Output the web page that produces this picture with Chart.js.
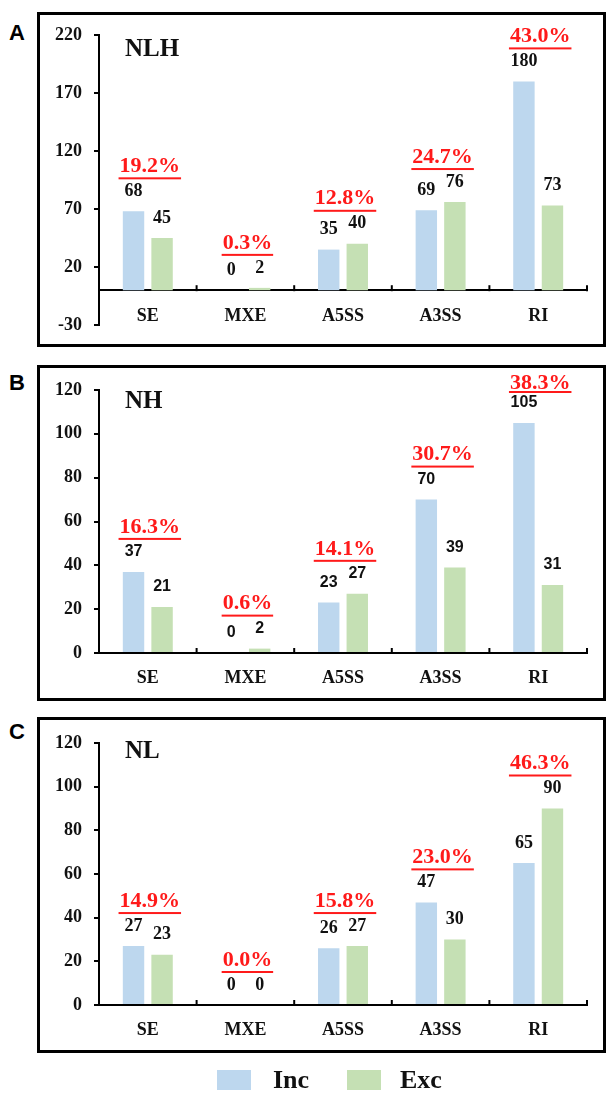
<!DOCTYPE html>
<html><head><meta charset="utf-8">
<script src="https://cdn.jsdelivr.net/npm/chart.js@4.4.0/dist/chart.umd.min.js"></script>
<style>
html,body{margin:0;padding:0;background:#fff;}
body{width:606px;height:1093px;position:relative;overflow:hidden;}
.frame{position:absolute;border:3px solid #000;box-sizing:border-box;}
canvas{position:absolute;left:0;}
.letter{position:absolute;left:9px;font:bold 22px "Liberation Sans",Arial,sans-serif;color:#000;line-height:1;}
.title{position:absolute;left:125px;font:bold 25px "Liberation Serif","Times New Roman",serif;color:#111;line-height:1;}
.sw{position:absolute;width:34px;height:20px;}
.lt{position:absolute;font:bold 26px "Liberation Serif","Times New Roman",serif;color:#111;line-height:1;}
</style></head>
<body>
<div class="frame" style="left:37px;top:12px;width:569px;height:335px;"></div>
<div class="frame" style="left:37px;top:365px;width:569px;height:336px;"></div>
<div class="frame" style="left:37px;top:717px;width:569px;height:336px;"></div>
<div class="letter" style="top:22px;">A</div>
<div class="letter" style="top:372px;">B</div>
<div class="letter" style="top:721px;">C</div>
<canvas id="cA" width="606" height="350" style="top:0px;"></canvas>
<canvas id="cB" width="606" height="350" style="top:350px;"></canvas>
<canvas id="cC" width="606" height="393" style="top:700px;"></canvas>
<div class="title" style="top:35px;">NLH</div>
<div class="title" style="top:387px;">NH</div>
<div class="title" style="top:737px;">NL</div>
<div class="sw" style="left:217px;top:1070px;background:#bdd7ee;"></div>
<div class="lt" style="left:273px;top:1067px;" id="lg0"></div>
<div class="sw" style="left:347px;top:1070px;background:#c5e0b4;"></div>
<div class="lt" style="left:400px;top:1067px;" id="lg1"></div>
<script>
const categories = ['SE','MXE','A5SS','A3SS','RI'];
const seriesNames = ['Inc','Exc'];
const incNLH = [68,0,35,69,180];
const excNLH = [45,2,40,76,73];
const pctNLH = ['19.2%','0.3%','12.8%','24.7%','43.0%'];
const incNH = [37,0,23,70,105];
const excNH = [21,2,27,39,31];
const pctNH = ['16.3%','0.6%','14.1%','30.7%','38.3%'];
const incNL = [27,0,26,47,65];
const excNL = [23,0,27,30,90];
const pctNL = ['14.9%','0.0%','15.8%','23.0%','46.3%'];
const ticksNLH = [-30,20,70,120,170,220];
const ticksNH = [0,20,40,60,80,100,120];
const ticksNL = [0,20,40,60,80,100,120];

const colInc = '#bdd7ee';
const colExc = '#c5e0b4';
document.getElementById('lg0').textContent = seriesNames[0];
document.getElementById('lg1').textContent = seriesNames[1];

const labelPlugin = {
  id: 'barLabels',
  afterDatasetsDraw(chart) {
    const o = chart.options.plugins.barLabels;
    const ctx = chart.ctx;
    const xs = chart.scales.x;
    const y0 = chart.scales.y.getPixelForValue(0);
    ctx.save();
    ctx.strokeStyle = '#000';
    ctx.lineWidth = 2;
    for (let i = 1; i <= categories.length; i++) {
      const bx = xs.getPixelForValue(i - 0.5);
      ctx.beginPath();
      ctx.moveTo(bx, y0 + 1);
      ctx.lineTo(bx, y0 - 5);
      ctx.stroke();
    }
    ctx.textAlign = 'center';
    ctx.textBaseline = 'middle';
    for (let i = 0; i < categories.length; i++) {
      let topMost = Infinity;
      ctx.font = o.valueFont;
      ctx.fillStyle = '#111';
      chart.data.datasets.forEach((ds, d) => {
        const el = chart.getDatasetMeta(d).data[i];
        const y = el.y - 20;
        ctx.fillText(String(ds.data[i]), el.x, y);
        topMost = Math.min(topMost, y);
      });
      const want = topMost - 25;
      const clamped = want < o.minY;
      const py = clamped ? o.minY : want;
      const cx = xs.getPixelForValue(i) + 2;
      ctx.font = o.pctFont;
      ctx.fillStyle = '#ff1a1a';
      ctx.fillText(o.pct[i], cx, py);
      const w = ctx.measureText(o.pct[i]).width + 2;
      ctx.fillRect(cx - w / 2, py + (clamped ? 8 : 11), w, 2);
    }
    ctx.restore();
  }
};

function makeChart(id, inc, exc, pct, ticks, ymin, ymax, pad, valueFont, minY) {
  return new Chart(document.getElementById(id), {
    type: 'bar',
    data: {
      labels: categories,
      datasets: [
        {label: seriesNames[0], data: inc, backgroundColor: colInc, categoryPercentage: 0.585, barPercentage: 0.75},
        {label: seriesNames[1], data: exc, backgroundColor: colExc, categoryPercentage: 0.585, barPercentage: 0.75}
      ]
    },
    options: {
      responsive: false,
      animation: false,
      devicePixelRatio: 1,
      layout: {padding: pad},
      plugins: {
        legend: {display: false},
        tooltip: {enabled: false},
        barLabels: {pct: pct, valueFont: valueFont, pctFont: 'bold 22px "Liberation Serif", serif', minY: minY}
      },
      scales: {
        x: {
          position: {y: 0},
          grid: {display: false, drawTicks: false},
          border: {display: true, color: '#000', width: 2},
          ticks: {padding: 15, color: '#111', font: {family: '"Liberation Serif", serif', weight: 'bold', size: 18}}
        },
        y: {
          min: ymin, max: ymax,
          afterFit(s) { s.width = 99; },
          afterBuildTicks(s) { s.ticks = ticks.map(v => ({value: v})); },
          grid: {drawOnChartArea: false, drawTicks: true, tickLength: 5, color: '#000', lineWidth: 2},
          border: {display: true, color: '#000', width: 2},
          ticks: {padding: 12, color: '#111', font: {family: '"Liberation Serif", serif', weight: 'bold', size: 18}}
        }
      }
    },
    plugins: [labelPlugin]
  });
}

makeChart('cA', incNLH, excNLH, pctNLH, ticksNLH, -30, 220, {top: 35, bottom: 25, right: 19, left: 0}, 'bold 18px "Liberation Serif", serif', 31);
makeChart('cB', incNH, excNH, pctNH, ticksNH, 0, 120, {top: 40, bottom: 47, right: 19, left: 0}, 'bold 16px "Liberation Sans", sans-serif', 33);
makeChart('cC', incNL, excNL, pctNL, ticksNL, 0, 120, {top: 43, bottom: 88, right: 19, left: 0}, 'bold 18px "Liberation Serif", serif', 35);
</script>
</body></html>
